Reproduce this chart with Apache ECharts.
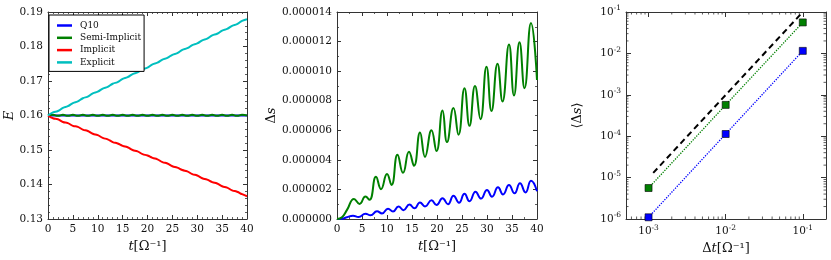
<!DOCTYPE html>
<html><head><meta charset="utf-8">
<script src="https://cdn.jsdelivr.net/npm/echarts@6/dist/echarts.min.js"></script>
<style>html,body{margin:0;padding:0;background:#fff}#c{width:831px;height:260px}</style>
</head><body><div id="c"></div>
<script>
const FONT = 'DejaVu Serif';

// ---- Panel 1: energy vs time ----
const tValues = [0,1,2,3,4,5,6,7,8,9,10,11,12,13,14,15,16,17,18,19,20,21,22,23,24,25,26,27,28,29,30,31,32,33,34,35,36,37,38,39,40];
const energyQ10 = [0.1600,0.1600,0.1600,0.1600,0.1600,0.1600,0.1600,0.1600,0.1600,0.1600,0.1600,0.1600,0.1600,0.1600,0.1600,0.1600,0.1600,0.1600,0.1600,0.1600,0.1600,0.1600,0.1600,0.1600,0.1600,0.1600,0.1600,0.1600,0.1600,0.1600,0.1600,0.1600,0.1600,0.1600,0.1600,0.1600,0.1600,0.1600,0.1600,0.1600,0.1600];
const energySemi = [0.1600,0.1602,0.1599,0.1602,0.1599,0.1602,0.1599,0.1602,0.1599,0.1602,0.1599,0.1602,0.1599,0.1602,0.1599,0.1602,0.1599,0.1602,0.1599,0.1602,0.1599,0.1602,0.1599,0.1602,0.1599,0.1602,0.1599,0.1602,0.1599,0.1602,0.1599,0.1602,0.1599,0.1602,0.1599,0.1602,0.1599,0.1602,0.1599,0.1602,0.1600];
const energyImplicit = [0.1600,0.1592,0.1589,0.1581,0.1578,0.1570,0.1567,0.1559,0.1555,0.1547,0.1543,0.1535,0.1531,0.1523,0.1519,0.1512,0.1508,0.1500,0.1496,0.1488,0.1484,0.1477,0.1473,0.1465,0.1461,0.1453,0.1449,0.1442,0.1438,0.1430,0.1426,0.1418,0.1414,0.1407,0.1403,0.1395,0.1391,0.1383,0.1379,0.1372,0.1366];
const energyExplicit = [0.1600,0.1609,0.1613,0.1622,0.1627,0.1636,0.1641,0.1650,0.1655,0.1664,0.1669,0.1678,0.1683,0.1692,0.1697,0.1706,0.1711,0.1720,0.1725,0.1734,0.1739,0.1748,0.1753,0.1762,0.1767,0.1776,0.1781,0.1790,0.1795,0.1804,0.1809,0.1818,0.1823,0.1832,0.1837,0.1846,0.1851,0.1860,0.1865,0.1874,0.1879];

// ---- Panel 2: Δs vs time (units of 1e-6) ----
const dsSemi = [[0,0],[1,0.12],[2,0.62],[3.4,1.36],[4.5,1.02],[5.7,1.52],[6.5,1.3],[7.8,2.85],[8.8,2.02],[10.0,3.04],[10.9,2.3],[12.1,4.35],[13.2,3.12],[14.4,4.55],[15.4,3.6],[16.6,5.85],[17.6,4.2],[18.9,6.0],[19.9,4.6],[21.1,7.33],[22.0,5.2],[23.3,7.5],[24.3,5.7],[25.5,8.85],[26.5,6.3],[27.6,9.0],[28.7,6.75],[29.9,10.3],[30.9,7.3],[32.1,10.5],[33.1,7.95],[34.4,11.8],[35.4,8.35],[36.5,11.95],[37.5,8.85],[38.8,13.25],[40,9.4]];
const dsQ10 = [[0,0],[1,0.02],[2,0.12],[3.2,0.22],[4.3,0.13],[5.7,0.36],[6.7,0.25],[8.0,0.52],[9.0,0.38],[10.2,0.7],[11.2,0.5],[12.3,0.85],[13.3,0.6],[14.5,0.98],[15.5,0.72],[16.6,1.12],[17.6,0.85],[18.9,1.26],[19.9,0.95],[21.1,1.4],[22.2,1.0],[23.3,1.58],[24.4,1.1],[25.5,1.7],[26.5,1.2],[27.7,1.85],[28.8,1.38],[30.0,1.96],[31.0,1.5],[32.2,2.14],[33.2,1.66],[34.4,2.3],[35.5,1.74],[36.6,2.42],[37.7,1.8],[38.8,2.58],[40,1.88]];

// ---- Panel 3: <Δs> vs Δt ----
const dtValues = [1e-3, 1e-2, 1e-1];
const meanDsSemi = [5.6e-6, 5.7e-4, 5.6e-2];
const meanDsQ10 = [1.1e-6, 1.13e-4, 1.15e-2];
const refLineDt = [1.15e-3, 1e-1];
const refLineDs = [1.3e-5, 1e-1];

// log-axis ranges and minor tick values
const xLogMin = 5.1e-4, xLogMax = 2e-1, yLogMin = 1e-6, yLogMax = 1e-1;
const minorMantissas = [2,3,4,5,6,7,8,9];
const xMinorTickValues = [];
[1e-4,1e-3,1e-2,1e-1].forEach(d => minorMantissas.forEach(m => { const v = m*d; if (v > xLogMin*1.001 && v < xLogMax*0.999) xMinorTickValues.push(v); }));
const yMinorTickValues = [];
[1e-6,1e-5,1e-4,1e-3,1e-2].forEach(d => minorMantissas.forEach(m => yMinorTickValues.push(m*d)));

const AX = '#333';
function logLabel(v){
  const e = Math.log10(v), r = Math.round(e);
  if (Math.abs(e - r) > 1e-6) return '';
  return '{b|10}{s|' + r + '}';
}
const logRich = {
  b:{fontFamily:FONT,fontSize:10.5,color:'#111'},
  s:{fontFamily:FONT,fontSize:7.5,color:'#111',padding:[0,0,7,0]}
};
function axis(opts){
  return {
    gridIndex: opts.grid, type: opts.type || 'value', position: opts.position,
    min: opts.min, max: opts.max, interval: opts.interval, logBase: opts.type==='log'?10:undefined,
    axisLine:{show:true,onZero:false,lineStyle:{color:AX,width:1}},
    axisTick:{show:true,inside:true,length:opts.type==='log'?5:4,lineStyle:{color:AX,width:1}},
    minorTick:{show:!!opts.minor,splitNumber:opts.minor||5,length:2,lineStyle:{color:AX,width:0.8}},
    splitLine:{show:false}, minorSplitLine:{show:false},
    axisLabel:{show:!!opts.label, fontFamily:FONT, fontSize:10.5, color:'#111', margin:5,
      formatter: opts.formatter, rich: opts.rich},
    name: opts.name, nameLocation:'middle', nameGap: opts.nameGap,
    nameTextStyle: opts.nameStyle,
    splitNumber: opts.splitNumber
  };
}
const nameRich = {
  i:{fontFamily:FONT,fontSize:13,fontStyle:'italic',color:'#111'},
  n:{fontFamily:FONT,fontSize:13,color:'#111'}
};
const xName = '{i|t}{n|[Ω⁻¹]}';

const minorTickData = xMinorTickValues.map(v => [v, yLogMin, 0]).concat(yMinorTickValues.map(v => [xLogMin, v, 1]));

const option = {
  animation:false,
  backgroundColor:'#fff',
  grid:[
    {left:48, top:12, width:199, height:207},
    {left:337, top:12, width:200, height:207},
    {left:626, top:12, width:200, height:207}
  ],
  legend:{
    data:['Q10','Semi-Implicit','Implicit','Explicit'],
    orient:'vertical', left:49, top:15, icon:'rect', itemWidth:15, itemHeight:2.5,
    itemGap:1.3, padding:[5,3,3.5,8], borderColor:'#000', borderWidth:1, borderRadius:0,
    backgroundColor:'#fff',
    textStyle:{fontFamily:FONT,fontSize:9,color:'#111',lineHeight:11,padding:[0,0,0,3]}
  },
  xAxis:[
    axis({grid:0,position:'bottom',min:0,max:40,interval:5,minor:5,label:true,name:xName,nameGap:9,nameStyle:{rich:nameRich}}),
    axis({grid:0,position:'top',min:0,max:40,interval:5,minor:5}),
    axis({grid:1,position:'bottom',min:0,max:40,interval:5,minor:2,label:true,name:xName,nameGap:9,nameStyle:{rich:nameRich}}),
    axis({grid:1,position:'top',min:0,max:40,interval:5,minor:2}),
    axis({grid:2,type:'log',position:'bottom',min:xLogMin,max:xLogMax,splitNumber:3,label:true,formatter:logLabel,rich:logRich,
      name:'{n|Δ}{i|t}{n|[Ω⁻¹]}',nameGap:13,nameStyle:{rich:nameRich}}),
    axis({grid:2,type:'log',position:'top',min:xLogMin,max:xLogMax,splitNumber:3})
  ],
  yAxis:[
    axis({grid:0,position:'left',min:0.13,max:0.19,interval:0.01,minor:5,label:true,formatter:v=>v.toFixed(2),
      name:'{i|E}',nameGap:29,nameStyle:{rich:nameRich}}),
    axis({grid:0,position:'right',min:0.13,max:0.19,interval:0.01,minor:5}),
    axis({grid:1,position:'left',min:0,max:14,interval:2,minor:2,label:true,formatter:v=>(v/1e6).toFixed(6),
      name:'{n|Δ}{i|s}',nameGap:55,nameStyle:{rich:nameRich}}),
    axis({grid:1,position:'right',min:0,max:14,interval:2,minor:2}),
    axis({grid:2,type:'log',position:'left',min:yLogMin,max:yLogMax,label:true,formatter:logLabel,rich:logRich,
      name:'{n|⟨Δ}{i|s}{n|⟩}',nameGap:42,nameStyle:{rich:nameRich}}),
    axis({grid:2,type:'log',position:'right',min:yLogMin,max:yLogMax})
  ],
  series:[
    {name:'Q10',type:'line',xAxisIndex:0,yAxisIndex:0,data:tValues.map((t,i)=>[t,energyQ10[i]]),showSymbol:false,smooth:0.5,
      color:'#0000ff',lineStyle:{width:2,color:'#0000ff'}},
    {name:'Semi-Implicit',type:'line',xAxisIndex:0,yAxisIndex:0,data:tValues.map((t,i)=>[t,energySemi[i]]),showSymbol:false,smooth:0.5,
      color:'#008000',lineStyle:{width:2,color:'#008000'}},
    {name:'Implicit',type:'line',xAxisIndex:0,yAxisIndex:0,data:tValues.map((t,i)=>[t,energyImplicit[i]]),showSymbol:false,smooth:0.5,
      color:'#ff0000',lineStyle:{width:2,color:'#ff0000'}},
    {name:'Explicit',type:'line',xAxisIndex:0,yAxisIndex:0,data:tValues.map((t,i)=>[t,energyExplicit[i]]),showSymbol:false,smooth:0.5,
      color:'#00bfbf',lineStyle:{width:2,color:'#00bfbf'}},
    {name:'ds-q10',type:'line',xAxisIndex:2,yAxisIndex:2,data:dsQ10,showSymbol:false,smooth:0.5,
      lineStyle:{width:2,color:'#0000ff'}},
    {name:'ds-semi',type:'line',xAxisIndex:2,yAxisIndex:2,data:dsSemi,showSymbol:false,smooth:0.5,
      lineStyle:{width:2,color:'#008000'}},
    {name:'log-minor-ticks',type:'custom',xAxisIndex:4,yAxisIndex:4,data:minorTickData,silent:true,clip:false,
      renderItem:(params, api) => {
        const kind = api.value(2);
        const st = {stroke:AX, lineWidth:0.8};
        if (kind === 0) {
          const a = api.coord([api.value(0), yLogMin]);
          const b = api.coord([api.value(0), yLogMax]);
          return {type:'group',children:[
            {type:'line',shape:{x1:a[0],y1:a[1],x2:a[0],y2:a[1]-2.5},style:st},
            {type:'line',shape:{x1:b[0],y1:b[1],x2:b[0],y2:b[1]+2.5},style:st}]};
        }
        const a = api.coord([xLogMin, api.value(1)]);
        const b = api.coord([xLogMax, api.value(1)]);
        return {type:'group',children:[
          {type:'line',shape:{x1:a[0],y1:a[1],x2:a[0]+2.5,y2:a[1]},style:st},
          {type:'line',shape:{x1:b[0],y1:b[1],x2:b[0]-2.5,y2:b[1]},style:st}]};
      }},
    {name:'ref',type:'line',xAxisIndex:4,yAxisIndex:4,data:refLineDt.map((d,i)=>[d,refLineDs[i]]),showSymbol:false,
      lineStyle:{width:2,color:'#000',type:[6,4]}},
    {name:'mean-semi',type:'line',xAxisIndex:4,yAxisIndex:4,data:dtValues.map((d,i)=>[d,meanDsSemi[i]]),symbol:'rect',symbolSize:7,clip:false,
      itemStyle:{color:'#008000',borderColor:'#000',borderWidth:0.6},lineStyle:{width:1.3,color:'#008000',type:'dotted'}},
    {name:'mean-q10',type:'line',xAxisIndex:4,yAxisIndex:4,data:dtValues.map((d,i)=>[d,meanDsQ10[i]]),symbol:'rect',symbolSize:7,clip:false,
      itemStyle:{color:'#0000ff',borderColor:'#000',borderWidth:0.6},lineStyle:{width:1.3,color:'#0000ff',type:'dotted'}}
  ]
};
const chart = echarts.init(document.getElementById('c'));
chart.setOption(option);
</script></body></html>
